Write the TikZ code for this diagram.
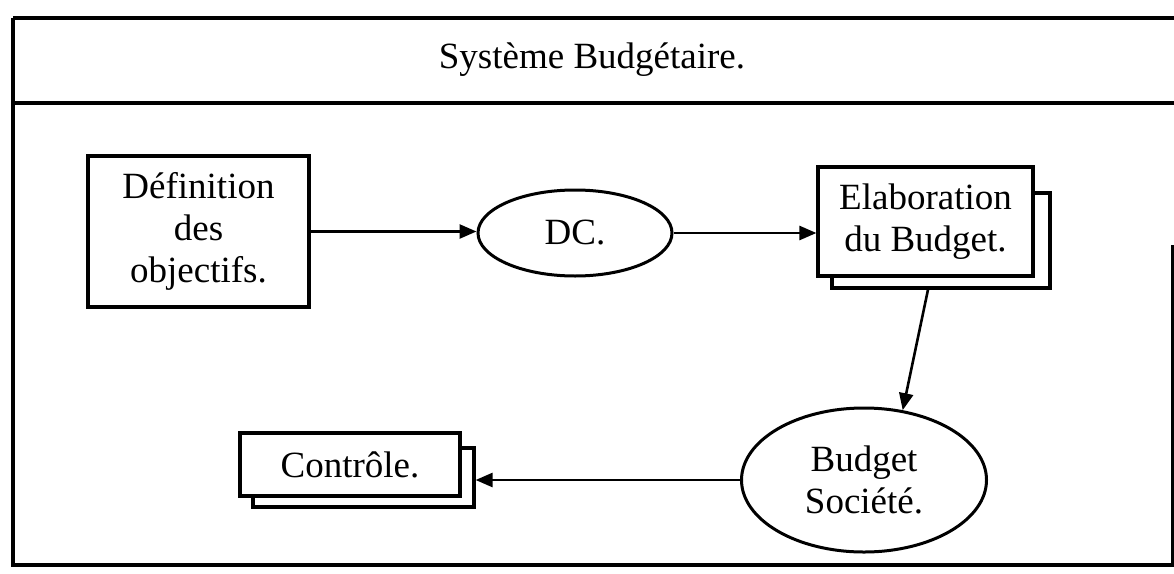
\documentclass[tikz,border=0pt]{standalone}
\usepackage{fontspec}
\setmainfont{Liberation Serif}
\usetikzlibrary{arrows.meta,shapes.geometric}
\begin{document}
\begin{tikzpicture}[x=1pt,y=-1pt,
  every node/.style={font=\fontsize{37}{42}\selectfont, align=center, inner sep=0pt},
  frameline/.style={line width=3.4pt},
  boxshape/.style={draw, line width=3.2pt, rectangle, fill=white},
  oval/.style={draw, line width=3pt, ellipse, fill=white},
  flow/.style={line width=2.6pt, -{Triangle[length=17pt,width=14pt]}},
]
\useasboundingbox (0,0) rectangle (1174,573);

% outer frame with its title band
\draw[frameline] (13,18) -- (1174,18);
\draw[frameline] (13,103) -- (1174,103);
\draw[frameline] (13,18) -- (13,565) -- (1173,565) -- (1173,245);
\node (title) at (592,60) {Système Budgétaire.};

% process steps
\node[boxshape, minimum width=221pt, minimum height=151pt] (def) at (198.5,231.5)
  {Définition\\des\\objectifs.};
\node[oval, minimum width=194pt, minimum height=86pt] (dc) at (575,233) {DC.};

\node[boxshape, minimum width=218pt, minimum height=95pt] (elabback) at (941,240.5) {};
\node[boxshape, minimum width=215pt, minimum height=109pt] (elab) at (925.5,221.5)
  {Elaboration\\du Budget.};

\node[oval, minimum width=245pt, minimum height=144pt] (bs) at (864,480)
  {Budget\\Société.};

\node[boxshape, minimum width=221pt, minimum height=59pt] (contback) at (363.5,477.5) {};
\node[boxshape, minimum width=220pt, minimum height=63pt] (cont) at (350,464.5) {Contrôle.};

% connectors
\draw[flow] (def.east) -- (def.east -| dc.west);
\draw[flow] (dc.east) -- (dc.east -| elab.west);
\draw[flow] ([xshift=-13pt]elabback.south) -- (bs.61);
\draw[flow] (bs.west) -- (bs.west -| contback.east);
\end{tikzpicture}
\end{document}
